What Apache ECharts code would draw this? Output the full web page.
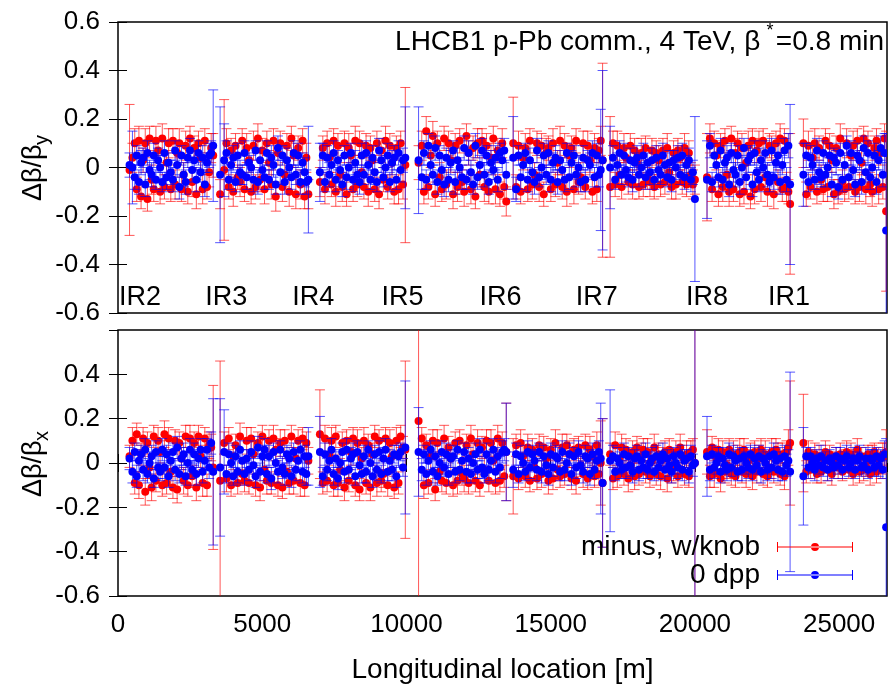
<!DOCTYPE html>
<html><head><meta charset="utf-8">
<script src="https://cdn.jsdelivr.net/npm/echarts@6/dist/echarts.min.js"></script>
<style>html,body{margin:0;padding:0;background:#fff}#c{width:891px;height:685px}</style>
</head><body><div id="c"></div>
<script>
// BPM longitudinal positions [m]
const s = [
  400, 500, 580, 650, 725, 800, 870, 945, 1020, 1095, 1165, 1240, 1315, 1390, 1460, 1535, 1610, 1685, 1755, 1830,
  1905, 1980, 2050, 2125, 2200, 2275, 2345, 2420, 2495, 2570, 2640, 2715, 2790, 2865, 2935, 3010, 3085, 3160, 3230, 3300,
  3540, 3680, 3760, 3840, 3920, 3995, 4075, 4150, 4230, 4305, 4385, 4460, 4540, 4615, 4695, 4770, 4850, 4925, 5005, 5080,
  5160, 5235, 5315, 5390, 5470, 5545, 5625, 5700, 5780, 5855, 5935, 6010, 6090, 6165, 6245, 6320, 6400, 6470, 6530, 6600,
  7000, 7100, 7175, 7250, 7325, 7400, 7475, 7550, 7625, 7700, 7775, 7850, 7925, 8000, 8075, 8150, 8225, 8300, 8375, 8450,
  8525, 8600, 8675, 8750, 8825, 8900, 8975, 9050, 9125, 9200, 9275, 9350, 9425, 9500, 9575, 9650, 9725, 9800, 9880, 9960,
  10420, 10530, 10605, 10685, 10760, 10840, 10915, 10995, 11070, 11150, 11225, 11305, 11380, 11460, 11535, 11615, 11690, 11770, 11845, 11925,
  12000, 12080, 12155, 12235, 12310, 12390, 12465, 12545, 12620, 12700, 12775, 12855, 12930, 13010, 13085, 13165, 13240, 13320, 13390, 13460,
  13700, 13800, 13885, 13960, 14045, 14120, 14205, 14280, 14365, 14440, 14525, 14600, 14685, 14760, 14845, 14920, 15005, 15080, 15165, 15240,
  15325, 15400, 15485, 15560, 15645, 15720, 15805, 15880, 15965, 16040, 16125, 16200, 16285, 16360, 16445, 16520, 16600, 16670, 16735, 16800,
  17060, 17160, 17235, 17310, 17390, 17460, 17540, 17610, 17690, 17760, 17840, 17910, 17990, 18060, 18140, 18210, 18290, 18360, 18440, 18510,
  18590, 18660, 18740, 18810, 18890, 18960, 19040, 19110, 19190, 19260, 19340, 19410, 19490, 19560, 19640, 19710, 19790, 19860, 19930, 20000,
  20420, 20520, 20595, 20670, 20745, 20815, 20890, 20965, 21040, 21110, 21185, 21260, 21335, 21405, 21480, 21555, 21630, 21700, 21775, 21850,
  21925, 21995, 22070, 22145, 22220, 22290, 22365, 22440, 22515, 22585, 22660, 22735, 22810, 22880, 22955, 23030, 23105, 23175, 23240, 23300,
  23760, 23860, 23935, 24010, 24080, 24155, 24230, 24305, 24375, 24450, 24525, 24600, 24670, 24745, 24820, 24895, 24965, 25040, 25115, 25190,
  25260, 25335, 25410, 25485, 25555, 25630, 25705, 25780, 25850, 25925, 26000, 26075, 26145, 26220, 26295, 26370, 26440, 26515, 26575, 26630
];
// Δβ/βy, "minus, w/knob" (values and errors in units of 0.01)
const redDy = [
  -1, 4, 10, -9, 11, -12, 3, 10, -13, 12, -5, -9, 11, 7, -10, 12, -8, 2, 10, -9,
  11, -7, 6, 10, -9, -3, 9, -10, 12, -6, 8, -11, 10, 4, -9, 11, -8, -2, 8, 5,
  -11, -1, 10, -8, 7, -10, 9, -4, -6, 11, -9, 8, 3, -10, 9, -8, 12, -5, 7, -9,
  10, 2, -7, 11, -12, 6, 10, -8, -3, 9, -10, 12, 5, -11, 8, -7, 11, -12, 4, -11,
  -6, 8, -9, 10, 4, -7, 11, -10, 9, -3, -8, 10, -11, 8, 5, -9, 11, -7, 10, -2,
  -8, 9, -10, 8, 3, -9, 10, -11, 7, -5, 11, -8, 9, 2, -10, 8, -9, 10, -7, 1,
  2, 9, -10, 15, -8, 5, 13, -11, 10, -4, -9, 12, -7, 10, 3, -11, 9, -8, 11, -6,
  -10, 13, 6, -9, 8, -12, 10, -3, 11, -8, 9, -10, 4, 12, -9, 7, -11, 10, -8, -14,
  10, -8, 9, -10, 4, 8, -9, 11, -7, -3, 10, -8, 9, -11, 6, 8, -9, 10, -7, 2,
  11, -8, 9, -10, 5, 8, -9, 11, -6, -4, 10, -8, 9, 3, -10, 8, -9, 7, 11, 3,
  -8, 10, -7, 9, -3, -8, 8, 4, -6, 9, -7, 7, 2, -8, 6, -7, 8, -4, -6, 7,
  -8, 6, 3, -7, 7, -6, 8, -2, -8, 6, -7, 7, 4, -6, 8, -7, 6, -3, -7, -5,
  -4, 12, -9, 10, 5, -11, 9, -8, 11, -3, -10, 12, -9, 6, 10, -11, 8, -10, 2, 9,
  -12, 11, -9, 7, 10, -8, 11, -4, -10, 9, 8, -11, 10, -6, 12, -9, 11, -8, -10, -15,
  10, -11, 9, -8, 4, 10, -10, 8, -5, -9, 11, -8, 9, 3, -11, 8, -10, 12, -6, -9,
  10, -8, 5, 9, -10, 11, -8, 2, 12, -9, 10, -7, -10, 8, 11, -9, 6, -8, 12, -18
];
const redDyErr = [
  27, 6, 6, 5, 6, 5, 5, 6, 5, 5, 6, 5, 6, 5, 5, 6, 5, 5, 6, 5,
  5, 6, 5, 6, 5, 5, 6, 5, 5, 6, 5, 6, 5, 5, 6, 5, 5, 6, 6, 9,
  6, 29, 6, 5, 5, 6, 5, 5, 6, 5, 5, 6, 5, 5, 6, 5, 6, 5, 5, 6,
  5, 5, 6, 5, 6, 5, 5, 6, 5, 5, 6, 5, 5, 6, 5, 6, 5, 5, 6, 6,
  6, 5, 6, 5, 6, 5, 5, 6, 5, 5, 6, 5, 5, 6, 5, 5, 6, 5, 5, 6,
  5, 5, 6, 5, 6, 5, 5, 6, 5, 5, 6, 5, 5, 6, 5, 5, 6, 5, 6, 32,
  7, 6, 5, 6, 5, 5, 6, 5, 5, 6, 5, 5, 6, 5, 5, 6, 5, 6, 5, 5,
  6, 5, 5, 6, 5, 5, 6, 5, 5, 6, 5, 5, 6, 5, 6, 5, 5, 6, 5, 6,
  19, 5, 6, 5, 5, 6, 5, 5, 6, 5, 5, 6, 5, 5, 6, 5, 5, 6, 5, 5,
  6, 5, 5, 6, 5, 5, 6, 5, 5, 6, 5, 5, 6, 5, 5, 6, 5, 5, 6, 40,
  29, 5, 5, 6, 5, 5, 6, 5, 5, 5, 6, 5, 5, 5, 6, 5, 5, 5, 6, 5,
  5, 5, 6, 5, 5, 5, 6, 5, 5, 5, 6, 5, 5, 5, 6, 5, 5, 5, 6, 6,
  18, 6, 5, 5, 6, 5, 5, 6, 5, 5, 6, 5, 5, 6, 5, 5, 6, 5, 5, 6,
  5, 5, 6, 5, 5, 6, 5, 5, 6, 5, 5, 6, 5, 5, 6, 5, 5, 6, 5, 29,
  10, 5, 6, 5, 5, 6, 5, 5, 6, 5, 5, 6, 5, 5, 6, 5, 5, 6, 5, 5,
  6, 5, 5, 6, 5, 5, 6, 5, 5, 6, 5, 5, 6, 5, 5, 6, 5, 5, 6, 33
];
// Δβ/βy, "0 dpp"
const blueDy = [
  1, 0, -4, 5, -6, 2, 4, -7, 6, -1, -3, 5, -5, 3, 0, -6, 6, -4, 2, -2,
  -5, 7, 1, -8, 5, -3, -6, 4, 7, -1, 3, -5, 6, -2, 4, -7, 2, 5, 6, 9,
  -3, 3, 6, -5, 1, 4, -6, 5, -2, -3, 6, -4, 2, 0, -5, 7, -6, 3, -1, -4,
  6, -5, 4, 1, -7, 8, -2, 5, -6, 3, 0, -4, 6, -3, 5, -6, 2, -2, -6, -5,
  -2, 5, -6, 4, -3, 1, 6, -5, 3, -1, -7, 5, -4, 0, 6, -5, 2, -3, -6, 5,
  -3, 6, 1, -5, 4, -2, -6, 7, 3, -4, 0, 5, -6, 2, 4, -5, 6, -1, 3, 4,
  3, -4, 6, -5, 9, 1, -3, 8, -6, 5, -1, -7, 4, -5, 2, 7, -6, 3, 0, -4,
  8, -5, 6, -2, -7, 9, -4, 1, 7, -3, 5, -6, 2, -1, 4, -5, 6, 3, 7, -3,
  4, -9, 5, -4, 1, 6, -5, 3, -2, -6, 7, -4, 0, 5, -3, 6, -5, 2, 4, -6,
  3, -1, -5, 6, -4, 2, 5, -3, 0, -6, 4, -5, 3, 1, 6, -4, 5, -3, -1, 3,
  0, 4, -5, 1, 6, -3, 5, -1, -4, 3, -5, 2, 4, -3, 0, 5, -4, 2, -2, 3,
  -5, 4, -1, -3, 5, 1, -4, 2, -5, 3, 0, 4, -3, 5, -4, 1, 3, -5, -2, -13,
  -5, 9, -6, 5, 1, -4, 7, -5, 2, 4, -7, 6, -1, -3, 5, -6, 0, 8, -4, 3,
  5, -7, 6, -2, -5, 3, 0, 6, -3, -6, 7, -4, 2, 5, -6, 1, 7, -5, 9, -7,
  -3, 5, -6, 4, 1, -5, 7, -2, -4, 6, -3, 0, 5, -7, 4, 2, -8, 6, -5, 1,
  9, -4, 6, -1, -7, 5, 3, -6, 8, -2, 6, -4, 0, 5, -6, 3, 8, -3, 6, -26
];
const blueDyErr = [
  5, 15, 5, 4, 5, 5, 4, 5, 5, 4, 5, 5, 4, 5, 5, 4, 5, 5, 4, 5,
  5, 4, 5, 5, 4, 5, 5, 4, 5, 5, 4, 5, 5, 4, 5, 5, 4, 5, 5, 23,
  28, 15, 5, 4, 5, 5, 4, 5, 5, 4, 5, 5, 4, 5, 5, 4, 5, 5, 4, 5,
  5, 4, 5, 5, 4, 5, 5, 4, 5, 5, 4, 5, 5, 4, 5, 5, 4, 6, 5, 22,
  12, 5, 4, 5, 5, 4, 5, 5, 4, 5, 5, 4, 5, 5, 4, 5, 5, 4, 5, 5,
  4, 5, 5, 4, 5, 5, 4, 5, 5, 4, 5, 5, 4, 5, 5, 4, 5, 5, 5, 21,
  22, 5, 5, 4, 5, 5, 4, 5, 5, 4, 5, 5, 4, 5, 5, 4, 5, 5, 4, 5,
  5, 4, 5, 5, 4, 5, 5, 4, 5, 5, 4, 5, 5, 4, 5, 5, 4, 5, 5, 6,
  17, 5, 4, 5, 5, 4, 5, 5, 4, 5, 5, 4, 5, 5, 4, 5, 5, 4, 5, 5,
  4, 5, 5, 4, 5, 5, 4, 5, 5, 4, 5, 5, 4, 5, 5, 4, 5, 5, 25, 37,
  17, 5, 4, 5, 5, 4, 5, 5, 4, 5, 5, 4, 5, 5, 4, 5, 5, 4, 5, 5,
  4, 5, 5, 4, 5, 5, 4, 5, 5, 4, 5, 5, 4, 5, 5, 4, 5, 5, 5, 34,
  16, 5, 4, 5, 5, 4, 5, 5, 4, 5, 5, 4, 5, 5, 4, 5, 5, 4, 5, 5,
  4, 5, 5, 4, 5, 5, 4, 5, 5, 4, 5, 5, 4, 5, 5, 4, 5, 5, 5, 33,
  13, 5, 4, 5, 5, 4, 5, 5, 4, 5, 5, 4, 5, 5, 4, 5, 5, 4, 5, 5,
  4, 5, 5, 4, 5, 5, 4, 5, 5, 4, 5, 5, 4, 5, 5, 4, 5, 5, 8, 40
];
// Δβ/βx, "minus, w/knob"
const redDx = [
  3, 10, -9, 13, -10, 4, 11, -13, 9, -2, -11, 12, -8, 10, 5, -10, 13, -9, 11, -4,
  -11, 10, -12, 9, 2, -8, 12, -10, 11, -6, 9, -11, 12, 3, -9, 11, -10, 8, 7, -2,
  -8, 9, -7, 11, -10, 3, 8, -9, 12, -5, -8, 10, -9, 11, 4, -10, 9, -11, 12, -3,
  -8, 10, -9, 11, 6, -10, 9, -11, 10, -4, -9, 12, -8, 2, 10, -9, 11, -10, 9, 1,
  13, -9, 11, -8, 4, 10, -10, 12, -9, -3, 9, -11, 10, -8, 5, 11, -10, 9, -12, 2,
  10, -9, 8, -11, 4, 12, -9, 10, -8, -5, 11, -10, 9, 3, -11, 10, -9, 12, 7, 6,
  19, 11, -10, 8, -9, 3, 10, -12, 9, -4, -8, 11, -9, 7, 2, -10, 9, -8, 10, -5,
  -7, 8, -9, 11, 4, -8, 9, -10, 7, -3, 10, -8, 9, 1, -9, 11, -8, 9, -6, 5,
  -6, 8, -7, 9, 3, -6, 7, -8, 6, -2, -7, 8, -5, 7, 2, -8, 6, -7, 9, -3,
  -6, 7, -5, 8, 4, -7, 6, -8, 7, -1, -5, 8, -7, 6, 3, -6, 8, -5, 0, -9,
  4, -7, 8, -6, 2, 7, -5, 6, -7, -1, 5, -6, 7, -5, 3, 6, -4, 5, -6, 1,
  7, -5, 4, -6, 2, 5, -7, 6, -4, -2, 5, -6, 7, 3, -5, 4, -6, 5, 6, 0,
  5, -6, 7, -5, 2, 6, -7, 5, -4, -1, 6, -5, 4, -6, 3, 5, -4, 6, -5, 1,
  4, -6, 5, -4, 2, 6, -5, 4, -6, -2, 5, -4, 6, 3, -5, 4, -6, 5, 7, 9,
  9, -4, 5, -3, 1, 4, -5, 3, -4, 2, 5, -3, 4, -5, 0, 3, -2, 4, -4, 1,
  5, -3, 4, -5, 2, 6, -4, 3, -3, -1, 4, -5, 3, 5, -4, 2, -3, 4, 3, 5
];
const redDxErr = [
  5, 6, 5, 5, 6, 5, 5, 6, 5, 5, 6, 5, 5, 6, 5, 5, 6, 5, 5, 6,
  5, 5, 6, 5, 5, 6, 5, 5, 6, 5, 5, 6, 5, 5, 6, 5, 5, 6, 6, 37,
  54, 5, 6, 5, 5, 6, 5, 5, 6, 5, 5, 6, 5, 5, 6, 5, 5, 6, 5, 5,
  6, 5, 5, 6, 5, 5, 6, 5, 5, 6, 5, 5, 6, 5, 5, 6, 5, 5, 5, 6,
  20, 5, 6, 5, 5, 6, 5, 5, 6, 5, 5, 6, 5, 5, 6, 5, 5, 6, 5, 5,
  6, 5, 5, 6, 5, 5, 6, 5, 5, 6, 5, 5, 6, 5, 5, 6, 5, 5, 5, 40,
  83, 5, 6, 5, 5, 6, 5, 5, 6, 5, 5, 6, 5, 5, 6, 5, 5, 6, 5, 5,
  6, 5, 5, 6, 5, 5, 6, 5, 5, 6, 5, 5, 6, 5, 5, 6, 5, 5, 5, 22,
  17, 5, 5, 6, 5, 5, 6, 5, 5, 6, 5, 5, 6, 5, 5, 6, 5, 5, 6, 5,
  5, 6, 5, 5, 6, 5, 5, 6, 5, 5, 6, 5, 5, 6, 5, 5, 6, 5, 19, 29,
  5, 5, 6, 5, 5, 6, 5, 5, 6, 5, 5, 6, 5, 5, 6, 5, 5, 6, 5, 5,
  6, 5, 5, 6, 5, 5, 6, 5, 5, 6, 5, 5, 6, 5, 5, 6, 5, 5, 5, 62,
  10, 5, 5, 6, 5, 5, 6, 5, 5, 6, 5, 5, 6, 5, 5, 6, 5, 5, 6, 5,
  5, 6, 5, 5, 6, 5, 5, 6, 5, 5, 6, 5, 5, 6, 5, 5, 6, 5, 8, 28,
  22, 5, 5, 4, 5, 5, 4, 5, 5, 4, 5, 5, 4, 5, 5, 4, 5, 5, 4, 5,
  5, 4, 5, 5, 4, 5, 5, 4, 5, 5, 4, 5, 5, 4, 5, 5, 4, 5, 6, 10
];
// Δβ/βx, "0 dpp"
const blueDx = [
  2, -4, 5, -6, 1, 4, -3, 6, -5, 0, 3, -7, 5, -2, -4, 6, -2, 4, -6, 1,
  5, -3, 7, -5, 2, 4, -6, 0, 6, -3, 4, -5, 2, 6, -4, 1, 6, -2, 9, -4,
  -2, 5, -5, 4, 0, -6, 3, -4, 6, 1, -5, 2, -3, 5, -1, -6, 7, -4, 3, 6,
  -5, 3, -7, 5, 0, -4, 6, -2, -5, 4, 2, -6, 5, -3, 1, 6, -4, 3, -5, 3,
  5, -6, 4, -3, 1, 6, -5, 2, -7, 0, 5, -4, 6, -3, 2, 4, -6, 5, -1, -5,
  3, -4, 6, 0, -6, 4, -3, 5, -5, 2, 6, -4, 1, -3, 4, -6, 3, 5, -2, 7,
  5, -3, 4, -5, 1, 6, -4, 3, -6, 0, 5, -2, 4, -5, 2, 3, -4, 6, -3, 1,
  5, -4, 2, -5, 0, 4, -3, 6, -2, -5, 4, -3, 1, 6, -4, 3, -2, 5, 6, 5,
  -3, 4, -5, 3, 0, -4, 5, -2, 4, 1, -3, 5, -4, 3, -1, -5, 4, -2, 3, 2,
  -4, 5, -3, 0, 4, -5, 3, -2, 5, -1, -4, 3, 2, -5, 4, -3, 1, 5, 2, -9,
  1, 3, -4, 2, 0, -3, 4, -2, 3, -1, -4, 2, 3, -3, 1, -2, 4, -3, 0, 2,
  -4, 3, -2, 1, 4, -3, 2, -1, -4, 3, 0, -2, 4, -3, 1, 2, -4, 3, -1, 0,
  3, -3, 4, -2, 0, 3, -4, 2, -1, -3, 4, -2, 3, 1, -4, 2, -3, 3, 0, -2,
  4, -3, 2, -1, 3, -4, 2, 0, -3, 3, -2, 4, 1, -3, 2, -4, 3, -1, 1, -4,
  -6, 3, -2, 3, 0, -3, 2, -1, 3, -2, 1, -3, 2, 0, -2, 3, -1, 2, -3, 1,
  3, -2, 0, 2, -3, 1, 3, -2, -1, 2, -3, 2, 1, -2, 3, -1, 2, -3, 4, -29
];
const blueDxErr = [
  5, 5, 4, 5, 5, 4, 5, 5, 4, 5, 5, 4, 5, 5, 4, 5, 5, 4, 5, 5,
  4, 5, 5, 4, 5, 5, 4, 5, 5, 4, 5, 5, 4, 5, 5, 4, 5, 5, 5, 33,
  31, 19, 4, 5, 5, 4, 5, 5, 4, 5, 5, 4, 5, 5, 4, 5, 5, 4, 5, 5,
  4, 5, 5, 4, 5, 5, 4, 5, 5, 4, 5, 5, 4, 5, 5, 4, 5, 5, 5, 13,
  16, 4, 5, 5, 4, 5, 5, 4, 5, 5, 4, 5, 5, 4, 5, 5, 4, 5, 5, 4,
  5, 5, 4, 5, 5, 4, 5, 5, 4, 5, 5, 4, 5, 5, 4, 5, 5, 4, 4, 30,
  20, 5, 4, 5, 5, 4, 5, 5, 4, 5, 5, 4, 5, 5, 4, 5, 5, 4, 5, 5,
  4, 5, 5, 4, 5, 5, 4, 5, 5, 4, 5, 5, 4, 5, 5, 4, 5, 5, 5, 22,
  8, 5, 4, 5, 5, 4, 5, 5, 4, 5, 5, 4, 5, 5, 4, 5, 5, 4, 5, 5,
  4, 5, 5, 4, 5, 5, 4, 5, 5, 4, 5, 5, 4, 5, 5, 4, 5, 5, 25, 29,
  32, 5, 4, 5, 5, 4, 5, 5, 4, 5, 5, 4, 5, 5, 4, 5, 5, 4, 5, 5,
  4, 5, 5, 4, 5, 5, 4, 5, 5, 4, 5, 5, 4, 5, 5, 4, 5, 5, 5, 62,
  18, 5, 4, 5, 5, 4, 5, 5, 4, 5, 5, 4, 5, 5, 4, 5, 5, 4, 5, 5,
  4, 5, 5, 4, 5, 5, 4, 5, 5, 4, 5, 5, 4, 5, 5, 4, 5, 5, 5, 45,
  22, 4, 5, 4, 4, 5, 4, 4, 5, 4, 4, 5, 4, 4, 5, 4, 4, 5, 4, 4,
  5, 4, 4, 5, 4, 4, 5, 4, 4, 5, 4, 4, 5, 4, 4, 5, 4, 4, 6, 40
];
const irNames = ['IR2', 'IR3', 'IR4', 'IR5', 'IR6', 'IR7', 'IR8', 'IR1'];
const irPos = [764, 3750, 6770, 9860, 13263, 16596, 20416, 23262];
const irLabelY = -0.538;
const seriesNames = ['minus, w/knob', '0 dpp'];
const circumference = 26659;

const FONT = '"Liberation Sans", Arial, Helvetica, sans-serif';
const RED_BAR = 'rgba(255,0,0,0.66)', RED_DOT = '#ff0000';
const BLUE_BAR = 'rgba(0,0,255,0.66)', BLUE_DOT = '#0000ff';

function build(y, e) { return s.map((x, i) => [x, y[i] / 100, e[i] / 100]); }

function errSeries(name, data, g, barColor, dotColor) {
  return {
    type: 'custom', name: name, xAxisIndex: g * 2, yAxisIndex: g * 2, clip: true,
    itemStyle: { color: dotColor }, encode: { x: 0, y: 1 }, data: data,
    renderItem: function (params, api) {
      const x = api.value(0), y = api.value(1), e = api.value(2);
      const c = api.coord([x, y]), t = api.coord([x, y + e]), b = api.coord([x, y - e]);
      const w = 5, st = { stroke: barColor, lineWidth: 1, fill: null };
      return { type: 'group', children: [
        { type: 'line', shape: { x1: c[0], y1: t[1], x2: c[0], y2: b[1] }, style: st },
        { type: 'line', shape: { x1: c[0] - w, y1: t[1], x2: c[0] + w, y2: t[1] }, style: st },
        { type: 'line', shape: { x1: c[0] - w, y1: b[1], x2: c[0] + w, y2: b[1] }, style: st },
        { type: 'circle', shape: { cx: c[0], cy: c[1], r: 4 }, style: { fill: dotColor } }
      ] };
    }
  };
}

const tick = { inside: true, length: 9, lineStyle: { color: '#000', width: 1 } };
const xBase = { type: 'value', min: 0, max: circumference, interval: 5000, splitLine: { show: false }, axisLine: { show: false } };
const yBase = { type: 'value', min: -0.6, max: 0.6, interval: 0.2, splitLine: { show: false }, axisLine: { show: false } };
const yLbl = { fontSize: 26, color: '#000', fontFamily: FONT, margin: 18,
  formatter: v => Math.abs(v) < 1e-9 ? '0' : (+v).toFixed(1) };
const txt = { fontSize: 28, color: '#000', fontFamily: FONT };
const legendIcon = 'path://M0,0H1V10H0Z M75,0H76V10H75Z M0,4.5H76V5.5H0Z M34,5A4,4 0 1 0 42,5A4,4 0 1 0 34,5Z';

function textStyle(text, font, align) {
  return { text: text, font: font, fill: '#000', align: align, verticalAlign: 'middle', textAlign: align, textVerticalAlign: 'middle' };
}
function yName(y, sub) {
  return { type: 'group', x: 34, y: y, rotation: Math.PI / 2, children: [
    { type: 'text', x: -34, y: 0, style: textStyle('Δβ/β', '27px ' + FONT, 'left') },
    { type: 'text', x: 22, y: 8, style: textStyle(sub, '20px ' + FONT, 'left') }
  ] };
}
function legendCfg(name, top) {
  return { data: [{ name: name, icon: legendIcon }], right: 38, top: top, padding: 0, orient: 'vertical', align: 'right',
    itemWidth: 76, itemHeight: 10, selectedMode: false,
    formatter: n => '{t|' + n + '}',
    textStyle: { rich: { t: Object.assign({ padding: [0, 12, 0, 0] }, txt) } } };
}

const chart = echarts.init(document.getElementById('c'));
chart.setOption({
  animation: false,
  backgroundColor: '#fff',
  grid: [
    { left: 118, top: 22, width: 769, height: 291, show: true, borderColor: '#000', borderWidth: 1.5, backgroundColor: 'transparent' },
    { left: 118, top: 330, width: 769, height: 267, show: true, borderColor: '#000', borderWidth: 1.5, backgroundColor: 'transparent' }
  ],
  xAxis: [
    Object.assign({}, xBase, { gridIndex: 0, position: 'bottom', axisTick: { show: false }, axisLabel: { show: false } }),
    Object.assign({}, xBase, { gridIndex: 0, position: 'top', show: false }),
    Object.assign({}, xBase, { gridIndex: 1, position: 'bottom', axisTick: tick,
      axisLabel: { fontSize: 26, color: '#000', fontFamily: FONT, margin: 16, showMaxLabel: false, formatter: v => String(v) },
      name: 'Longitudinal location [m]', nameLocation: 'middle', nameGap: 60, nameTextStyle: txt }),
    Object.assign({}, xBase, { gridIndex: 1, position: 'top', axisTick: tick, axisLabel: { show: false } })
  ],
  yAxis: [
    Object.assign({}, yBase, { gridIndex: 0, position: 'left', axisTick: tick, axisLabel: yLbl }),
    Object.assign({}, yBase, { gridIndex: 0, position: 'right', axisTick: tick, axisLabel: { show: false } }),
    Object.assign({}, yBase, { gridIndex: 1, position: 'left', axisTick: tick, axisLabel: Object.assign({}, yLbl, { showMaxLabel: false }) }),
    Object.assign({}, yBase, { gridIndex: 1, position: 'right', axisTick: tick, axisLabel: { show: false } })
  ],
  legend: [legendCfg(seriesNames[0], 533), legendCfg(seriesNames[1], 561)],
  graphic: [
    yName(167, 'y'),
    yName(463, 'x'),
    { type: 'text', x: 884, y: 42, style: textStyle('LHCB1 p-Pb comm., 4 TeV, β  =0.8 min', '28px ' + FONT, 'right') },
    { type: 'text', x: 770, y: 31, style: textStyle('*', '18px ' + FONT, 'center') }
  ],
  series: [
    errSeries(seriesNames[0], build(redDy, redDyErr), 0, RED_BAR, RED_DOT),
    errSeries(seriesNames[1], build(blueDy, blueDyErr), 0, BLUE_BAR, BLUE_DOT),
    errSeries(seriesNames[0], build(redDx, redDxErr), 1, RED_BAR, RED_DOT),
    errSeries(seriesNames[1], build(blueDx, blueDxErr), 1, BLUE_BAR, BLUE_DOT),
    { type: 'custom', xAxisIndex: 0, yAxisIndex: 0, silent: true, z: 5,
      data: irPos.map(p => [p, irLabelY]),
      renderItem: function (params, api) {
        const c = api.coord([api.value(0), api.value(1)]);
        return { type: 'text', x: c[0], y: c[1], style: textStyle(irNames[params.dataIndex], '27px ' + FONT, 'center') };
      } }
  ]
});
</script>
</body></html>
